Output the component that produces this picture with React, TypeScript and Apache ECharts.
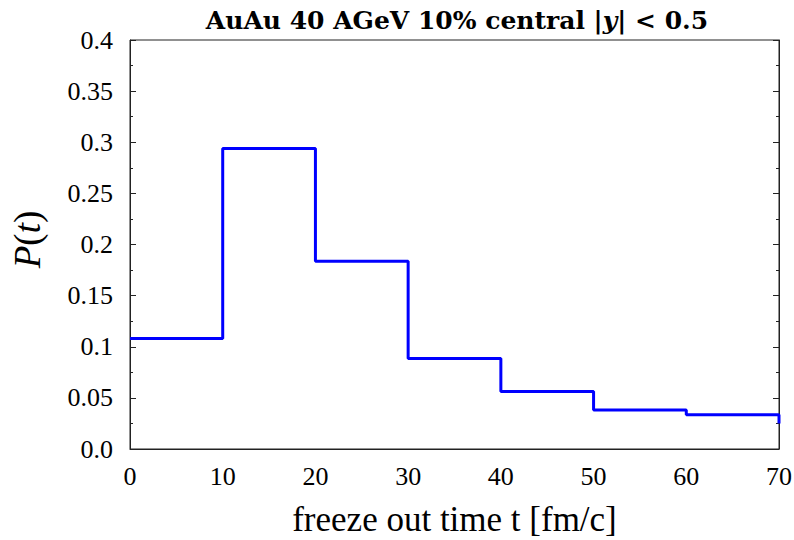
import React, { useEffect, useRef } from "react";
import * as echarts from "echarts";

const binStarts = [0, 10, 20, 30, 40, 50, 60, 70];
const probabilities = [0.108, 0.294, 0.1835, 0.0885, 0.0563, 0.0382, 0.0335, 0.025];
const yTicks = [0, 0.05, 0.1, 0.15, 0.2, 0.25, 0.3, 0.35, 0.4];
const xTicks = [0, 10, 20, 30, 40, 50, 60, 70];

const FONT = "'Liberation Serif', 'DejaVu Serif', serif";
const TITLE_FONT = "'DejaVu Serif', 'Liberation Serif', serif";

export default function App() {
  const ref = useRef<HTMLDivElement>(null);
  useEffect(() => {
    if (!ref.current) return;
    const chart = echarts.init(ref.current, undefined, { renderer: "svg" });
    const data = binStarts.map((x, i) => [x, probabilities[i]]);
    chart.setOption({
      animation: false,
      backgroundColor: "#ffffff",
      title: {
        text: "{b|AuAu 40 AGeV 10% central }{n||}{i|y}{n|| < 0.5}",
        left: 452,
        textAlign: "center",
        top: 3,
        textStyle: {
          rich: {
            b: { fontFamily: TITLE_FONT, fontWeight: "bold", fontSize: 25, color: "#000" },
            n: { fontFamily: TITLE_FONT, fontSize: 25, color: "#000" },
            i: { fontFamily: TITLE_FONT, fontStyle: "italic", fontSize: 25, color: "#000" },
          },
        },
      },
      grid: {
        left: 130,
        right: 15,
        top: 40,
        bottom: 91,
        show: true,
        borderColor: "#222",
        borderWidth: 1,
        backgroundColor: "transparent",
        outerBoundsMode: "none",
        containLabel: false,
      },
      xAxis: {
        type: "value",
        min: 0,
        max: 70,
        interval: 10,
        name: "freeze out time t [fm/c]",
        nameLocation: "middle",
        nameGap: 53,
        nameTextStyle: { fontFamily: FONT, fontSize: 35, color: "#000" },
        axisLine: { show: true, lineStyle: { color: "#222", width: 1 } },
        axisTick: { show: false },
        splitLine: { show: false },
        axisLabel: {
          fontFamily: FONT,
          fontSize: 26,
          color: "#000",
          margin: 14,
          formatter: (v: number) => (xTicks.includes(v) ? String(v) : ""),
        },
      },
      yAxis: [
        {
          type: "value",
          min: 0,
          max: 0.4,
          interval: 0.05,
          name: "{i|P}{n|(}{i|t}{n|)}",
          nameLocation: "middle",
          nameGap: 84,
          nameRotate: 90,
          nameTextStyle: {
            padding: [0, 0, 0, 10],
            rich: {
              i: { fontFamily: FONT, fontStyle: "italic", fontSize: 37, color: "#000" },
              n: { fontFamily: FONT, fontSize: 37, color: "#000" },
            },
          },
          axisLine: { show: true, lineStyle: { color: "#222", width: 1 } },
          axisTick: { show: true, inside: true, length: 6, lineStyle: { color: "#222" } },
          minorTick: { show: true, splitNumber: 2, length: 3, lineStyle: { color: "#222" } },
          splitLine: { show: false },
          axisLabel: {
            fontFamily: FONT,
            fontSize: 26,
            color: "#000",
            margin: 17,
            formatter: (v: number) => {
              const t = yTicks.find((y) => Math.abs(y - v) < 1e-9);
              if (t === undefined) return "";
              return t === 0 ? "0.0" : String(parseFloat(t.toFixed(2)));
            },
          },
        },
        {
          type: "value",
          min: 0,
          max: 0.4,
          interval: 0.05,
          position: "right",
          axisLine: { show: true, lineStyle: { color: "#222", width: 1 } },
          axisTick: { show: true, inside: true, length: 6, lineStyle: { color: "#222" } },
          minorTick: { show: true, splitNumber: 2, length: 3, lineStyle: { color: "#222" } },
          splitLine: { show: false },
          axisLabel: { show: false },
        },
      ],
      series: [
        {
          type: "line",
          step: "end",
          data,
          showSymbol: false,
          symbol: "none",
          lineStyle: { color: "#0000ff", width: 3 },
          clip: true,
        },
      ],
    });
    return () => chart.dispose();
  }, []);
  return (
    <div
      ref={ref}
      style={{ position: "fixed", left: 0, top: 0, width: 794, height: 540 }}
    />
  );
}
